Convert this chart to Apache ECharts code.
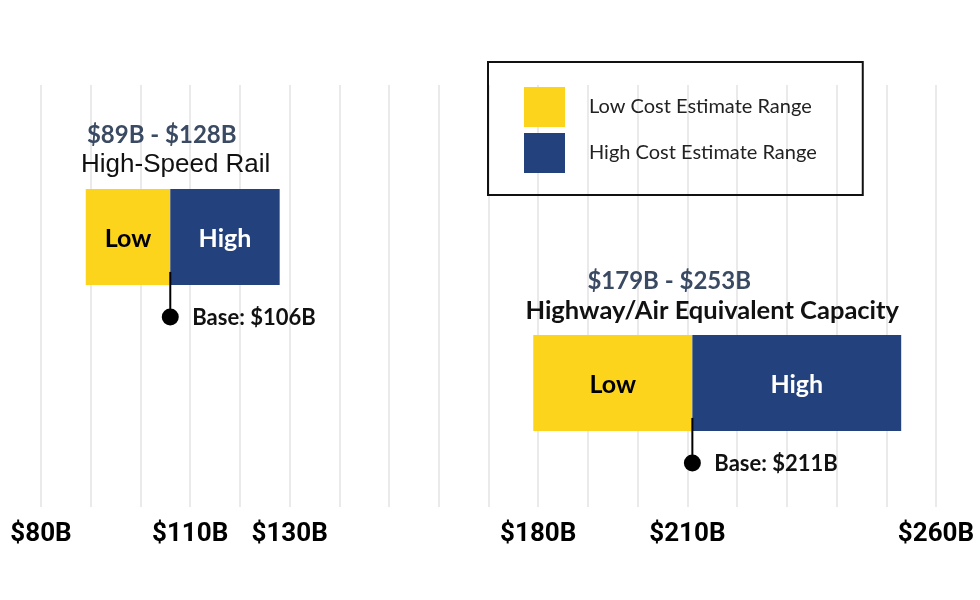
<!DOCTYPE html>
<html>
<head>
<meta charset="utf-8">
<title>Cost estimate ranges</title>
<script src="https://cdn.jsdelivr.net/npm/echarts@6/dist/echarts.min.js"></script>
<style>
  html, body { margin: 0; padding: 0; background: #fff; }
  #chart { width: 980px; height: 600px; }
</style>
</head>
<body>
<div id="chart"></div>
<script>
// data ($ billions)
var projects = ['High-Speed Rail', 'Highway/Air Equivalent Capacity'];
var lowEnd = [89, 179];
var baseCost = [106, 211];
var highEnd = [128, 253];
var tickLabels = [80, 110, 130, 180, 210, 260];

// layout only: vertical level of each row on the hidden y axis (0-10)
var rowLevel = [6.4, 2.94];
var rangeShift = [-21, -48];
var titleShift = [-7, -5];
var titleFont = ['normal 26px "Liberation Sans", Arial, sans-serif', 'bold 25.5px Lato, sans-serif'];

var YELLOW = '#fdd41c';
var BLUE = '#23417c';
var BAR_H = 96;
var BOLD = 'Lato, "Open Sans", sans-serif';

var chart = echarts.init(document.getElementById('chart'));

function money(v) {
  return '$' + v + 'B';
}

function segment(label, fill, textColor) {
  return function(params, api) {
    var y = api.value(2);
    var s = api.coord([api.value(0), y]);
    var e = api.coord([api.value(1), y]);
    return {
      type: 'group',
      children: [
        {
          type: 'rect',
          shape: { x: s[0], y: s[1] - BAR_H / 2, width: e[0] - s[0], height: BAR_H },
          style: { fill: fill }
        },
        {
          type: 'text',
          style: {
            text: label,
            x: (s[0] + e[0]) / 2,
            y: s[1] + 2,
            align: 'center',
            verticalAlign: 'middle',
            fill: textColor,
            font: 'bold 25px ' + BOLD
          }
        }
      ]
    };
  };
}

function renderNotes(params, api) {
  var i = params.dataIndex;
  var y = api.value(3);
  var s = api.coord([api.value(0), y]);
  var e = api.coord([api.value(1), y]);
  var b = api.coord([api.value(2), y]);
  var top = s[1] - BAR_H / 2;
  var bottom = s[1] + BAR_H / 2;
  var mid = (s[0] + e[0]) / 2;
  var dotY = bottom + 32;
  return {
    type: 'group',
    children: [
      {
        type: 'text',
        style: {
          text: money(api.value(0)) + ' - ' + money(api.value(1)),
          x: mid + rangeShift[i],
          y: top - 54,
          align: 'center',
          verticalAlign: 'middle',
          fill: '#3b4a63',
          font: 'bold 24px ' + BOLD
        }
      },
      {
        type: 'text',
        style: {
          text: projects[i],
          x: mid + titleShift[i],
          y: top - 24,
          align: 'center',
          verticalAlign: 'middle',
          fill: '#111',
          font: titleFont[i]
        }
      },
      {
        type: 'line',
        shape: { x1: b[0], y1: bottom - 13, x2: b[0], y2: dotY },
        style: { stroke: '#000', lineWidth: 2 }
      },
      {
        type: 'circle',
        shape: { cx: b[0], cy: dotY, r: 8.5 },
        style: { fill: '#000' }
      },
      {
        type: 'text',
        style: {
          text: 'Base: ' + money(api.value(2)),
          x: b[0] + 22,
          y: dotY + 1,
          align: 'left',
          verticalAlign: 'middle',
          fill: '#111',
          font: 'bold 22px ' + BOLD
        }
      }
    ]
  };
}

var lowData = projects.map(function(p, i) {
  return [lowEnd[i], baseCost[i], rowLevel[i]];
});
var highData = projects.map(function(p, i) {
  return [baseCost[i], highEnd[i], rowLevel[i]];
});
var noteData = projects.map(function(p, i) {
  return [lowEnd[i], highEnd[i], baseCost[i], rowLevel[i]];
});

var option = {
  animation: false,
  grid: { left: 41, right: 44, top: 85, bottom: 93 },
  xAxis: {
    type: 'value',
    min: 80,
    max: 260,
    interval: 10,
    axisLine: { show: false },
    axisTick: { show: false },
    splitLine: { show: true, lineStyle: { color: '#e3e3e3', width: 1.5 } },
    axisLabel: {
      margin: 14,
      color: '#000',
      fontWeight: 'bold',
      fontSize: 26,
      fontFamily: 'Roboto, sans-serif',
      formatter: function(v) {
        return tickLabels.indexOf(v) >= 0 ? money(v) : '';
      }
    }
  },
  yAxis: { type: 'value', min: 0, max: 10, show: false },
  legend: {
    left: 488,
    top: 62,
    orient: 'vertical',
    icon: 'rect',
    itemWidth: 41,
    itemHeight: 40,
    itemGap: 6,
    padding: [25, 46, 22, 36],
    borderColor: '#111',
    borderWidth: 2,
    selectedMode: false,
    textStyle: {
      fontFamily: 'Lato, sans-serif',
      fontSize: 20,
      color: '#222',
      padding: [0, 0, 0, 19]
    },
    data: ['Low Cost Estimate Range', 'High Cost Estimate Range']
  },
  series: [
    {
      name: 'Low Cost Estimate Range',
      type: 'custom',
      itemStyle: { color: YELLOW },
      renderItem: segment('Low', YELLOW, '#000'),
      encode: { x: [0, 1], y: 2 },
      data: lowData
    },
    {
      name: 'High Cost Estimate Range',
      type: 'custom',
      itemStyle: { color: BLUE },
      renderItem: segment('High', BLUE, '#fff'),
      encode: { x: [0, 1], y: 2 },
      data: highData
    },
    {
      name: 'notes',
      type: 'custom',
      silent: true,
      z: 5,
      renderItem: renderNotes,
      encode: { x: [0, 1], y: 3 },
      data: noteData
    }
  ]
};

chart.setOption(option);
</script>
</body>
</html>
